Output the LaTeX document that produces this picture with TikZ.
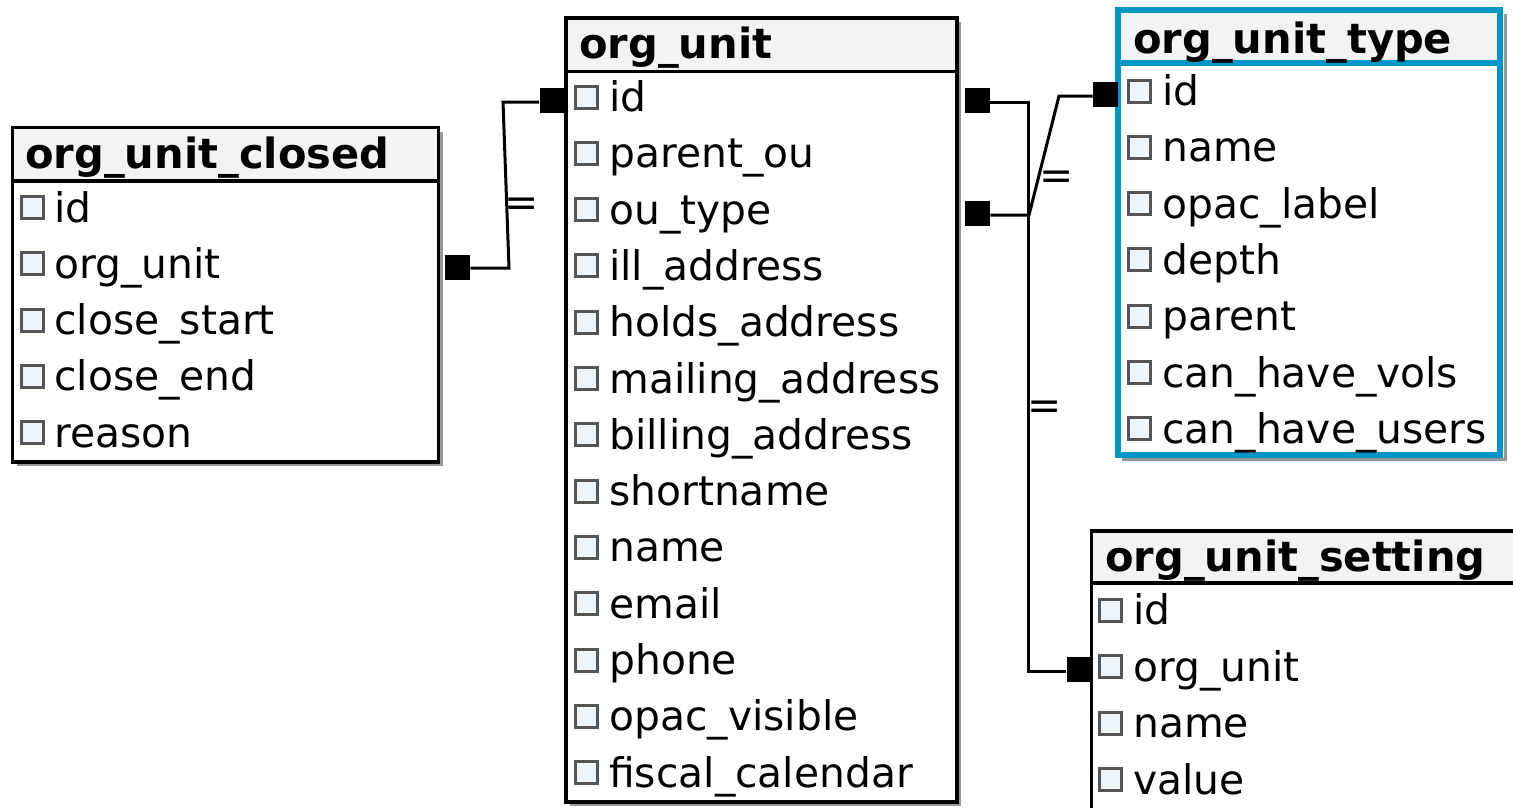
\documentclass[tikz,border=0pt]{standalone}
\usepackage{fontspec}
\setmainfont{DejaVu Sans}
\usetikzlibrary{calc}

\definecolor{hdrfill}{RGB}{243,243,243}
\definecolor{selblue}{RGB}{0,150,200}
\definecolor{chkedge}{RGB}{85,85,85}
\definecolor{chkfill}{RGB}{238,245,250}
\definecolor{shadow}{RGB}{150,150,150}

\begin{document}
\begin{tikzpicture}[x=0.75pt,y=0.75pt,yscale=-1,xscale=1,
  tbl/.style={draw=black,line width=2.6pt},
  seltbl/.style={draw=selblue,line width=4.5pt},
  hdr/.style={anchor=base west,inner sep=0pt,font=\fontsize{31.2}{36}\selectfont\bfseries},
  fld/.style={anchor=base west,inner sep=0pt,font=\fontsize{30.6}{36}\selectfont},
  chk/.style={draw=chkedge,fill=chkfill,line width=2.25pt,inner sep=0pt,minimum size=16.5pt},
  key/.style={fill=black,inner sep=0pt,minimum size=18.75pt},
  rel/.style={line width=2.25pt},
  card/.style={inner sep=0pt,font=\fontsize{30.6}{36}\selectfont}]
\useasboundingbox (0,0) rectangle (1513,807);

%Shape: Table org_unit_closed
\fill [shadow] (16.5,131.5) rectangle (442.5,466);
\draw [tbl,fill=white] (12.5,127.5) rectangle (438.5,462);
\draw [tbl,fill=hdrfill] (12.5,127.5) rectangle (438.5,181);
% Text Node
\draw (25,168) node [hdr] (cl) {org\_unit\_closed};
\draw (32.5,207.5) node [chk] (cl-id-b) {} (54,222) node [fld] (cl-id) {id};
\draw (32.5,263.8) node [chk] (cl-ou-b) {} (54,278.3) node [fld] (cl-ou) {org\_unit};
\draw (32.5,320) node [chk] (cl-cs-b) {} (54,334.5) node [fld] (cl-cs) {close\_start};
\draw (32.5,376.3) node [chk] (cl-ce-b) {} (54,390.8) node [fld] (cl-ce) {close\_end};
\draw (32.5,432.5) node [chk] (cl-re-b) {} (54,447) node [fld] (cl-re) {reason};

%Shape: Table org_unit
\fill [shadow] (570,22) rectangle (961,806);
\draw [tbl,fill=white] (566,18) rectangle (957,802);
\draw [tbl,fill=hdrfill] (566,18) rectangle (957,71.5);
% Text Node
\draw (579,58.5) node [hdr] (ou) {org\_unit};
\draw (586.5,97) node [chk] (ou-id-b) {} (609,111.5) node [fld] (ou-id) {id};
\draw (586.5,153.3) node [chk] (ou-pa-b) {} (609,167.8) node [fld] (ou-pa) {parent\_ou};
\draw (586.5,209.6) node [chk] (ou-ty-b) {} (609,224.1) node [fld] (ou-ty) {ou\_type};
\draw (586.5,265.9) node [chk] (ou-il-b) {} (609,280.4) node [fld] (ou-il) {ill\_address};
\draw (586.5,322.2) node [chk] (ou-ho-b) {} (609,336.7) node [fld] (ou-ho) {holds\_address};
\draw (586.5,378.5) node [chk] (ou-ma-b) {} (609,393) node [fld] (ou-ma) {mailing\_address};
\draw (586.5,434.8) node [chk] (ou-bi-b) {} (609,449.3) node [fld] (ou-bi) {billing\_address};
\draw (586.5,491.1) node [chk] (ou-sh-b) {} (609,505.6) node [fld] (ou-sh) {shortname};
\draw (586.5,547.4) node [chk] (ou-na-b) {} (609,561.9) node [fld] (ou-na) {name};
\draw (586.5,603.7) node [chk] (ou-em-b) {} (609,618.2) node [fld] (ou-em) {email};
\draw (586.5,660) node [chk] (ou-ph-b) {} (609,674.5) node [fld] (ou-ph) {phone};
\draw (586.5,716.3) node [chk] (ou-op-b) {} (609,730.8) node [fld] (ou-op) {opac\_visible};
\draw (586.5,772.6) node [chk] (ou-fi-b) {} (609,787.6) node [fld] (ou-fi) {fiscal\_calendar};

%Shape: Table org_unit_type (selected)
\fill [shadow] (1504,14) rectangle (1507,459);
\fill [shadow] (1122,458) rectangle (1507,461);
\draw [seltbl,fill=white] (1118,10) rectangle (1500,455);
\draw [seltbl,fill=hdrfill] (1118,10) rectangle (1500,62.7);
% Text Node
\draw (1133,53) node [hdr] (ty) {org\_unit\_type};
\draw (1139,91) node [chk] (ty-id-b) {} (1162,105.5) node [fld] (ty-id) {id};
\draw (1139,147.3) node [chk] (ty-na-b) {} (1162,161.8) node [fld] (ty-na) {name};
\draw (1139,203.6) node [chk] (ty-op-b) {} (1162,218.1) node [fld] (ty-op) {opac\_label};
\draw (1139,259.9) node [chk] (ty-de-b) {} (1162,274.4) node [fld] (ty-de) {depth};
\draw (1139,316.2) node [chk] (ty-pa-b) {} (1162,330.7) node [fld] (ty-pa) {parent};
\draw (1139,372.5) node [chk] (ty-vo-b) {} (1162,387) node [fld] (ty-vo) {can\_have\_vols};
\draw (1139,428.8) node [chk] (ty-us-b) {} (1162,443.3) node [fld] (ty-us) {can\_have\_users};

%Shape: Table org_unit_setting
\draw [tbl,fill=white] (1091.7,531) rectangle (1540,830);
\draw [tbl,fill=hdrfill] (1091.7,531) rectangle (1540,583);
% Text Node
\draw (1105,571.5) node [hdr] (se) {org\_unit\_setting};
\draw (1110.5,610) node [chk] (se-id-b) {} (1133,624.5) node [fld] (se-id) {id};
\draw (1110.5,666.5) node [chk] (se-ou-b) {} (1133,681) node [fld] (se-ou) {org\_unit};
\draw (1110.5,723) node [chk] (se-na-b) {} (1133,737.5) node [fld] (se-na) {name};
\draw (1110.5,779.5) node [chk] (se-va-b) {} (1133,794) node [fld] (se-va) {value};

%Shape: Key markers
\node [key] (k-cl-ou) at (457.5,267) {};
\node [key] (k-ou-id-l) at (552,100.5) {};
\node [key] (k-ou-id-r) at (977.5,100.5) {};
\node [key] (k-ou-ty) at (977.5,213.5) {};
\node [key] (k-ty-id) at (1105.5,94.5) {};
\node [key] (k-se-ou) at (1079,669.5) {};

%Straight Lines: org_unit_closed.org_unit -> org_unit.id
\coordinate (a1) at (509,268);
\coordinate (a2) at (503,102);
\draw [rel] (k-cl-ou.east |- a1) -- (a1) -- (a2) -- (k-ou-id-l.west |- a2);
%Straight Lines: org_unit.ou_type -> org_unit_type.id
\coordinate (b1) at (1029,215);
\coordinate (b2) at (1059,96);
\draw [rel] (k-ou-ty.east |- b1) -- (b1) -- (b2) -- (k-ty-id.west |- b2);
%Straight Lines: org_unit.id -> org_unit_setting.org_unit
\coordinate (c1) at (1028.5,102);
\coordinate (c2) at (1028.5,671.5);
\draw [rel] (k-ou-id-r.east |- c1) -- (c1) -- (c2) -- (k-se-ou.west |- c2);

% Text Node
\draw (522,207) node [card] (eq-a) {=};
\draw (1057,180) node [card] (eq-b) {=};
\draw (1045,410) node [card] (eq-c) {=};

\end{tikzpicture}
\end{document}
